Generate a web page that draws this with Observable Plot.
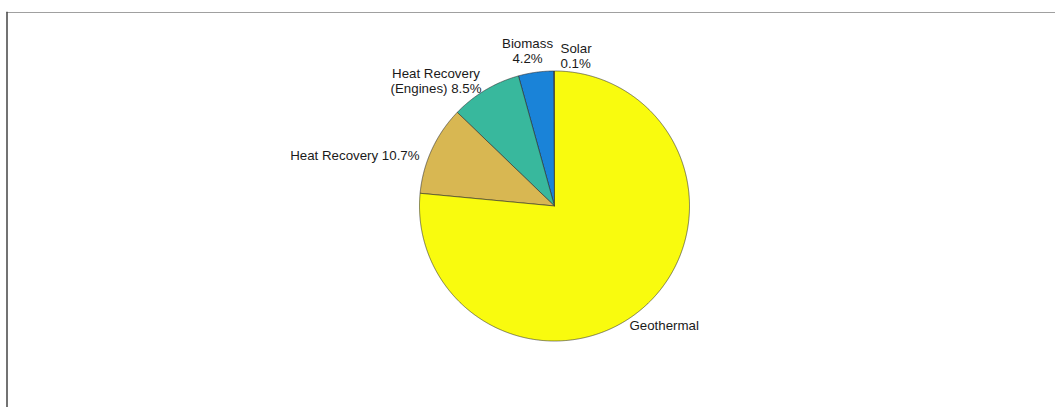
<!DOCTYPE html>
<html><head><meta charset="utf-8">
<script src="https://cdn.jsdelivr.net/npm/d3@7"></script>
<script src="https://cdn.jsdelivr.net/npm/@observablehq/plot@0.6"></script>
<style>body{margin:0;background:#fff;}</style>
</head><body><div id="chart"></div>
<script>
// Data
const categories = ["Solar", "Biomass", "Heat Recovery (Engines)", "Heat Recovery", "Geothermal"];
const shares = [0.1, 4.2, 8.5, 10.7, 76.5];
const labels = ["Solar\n0.1%", "Biomass\n4.2%", "Heat Recovery\n(Engines) 8.5%", "Heat Recovery 10.7%", "Geothermal"];

// Style
const colors = ["#3e26a8", "#1a83d8", "#38b89d", "#d8b752", "#f9fb0e"];
const labelLayout = [
  {anchor: "start", dx: 6.5, dy: 10.8},
  {anchor: "middle", dx: -6.5, dy: 4.4},
  {anchor: "middle", dx: -42.5, dy: 15},
  {anchor: "end", dx: 0, dy: 16},
  {anchor: "start", dx: -25, dy: 14.3}
];

const total = d3.sum(shares);
const slices = [];
let acc = 0;
categories.forEach((name, i) => {
  const a0 = acc / total * 2 * Math.PI;
  acc += shares[i];
  const a1 = acc / total * 2 * Math.PI;
  slices.push({name, a0, a1, mid: (a0 + a1) / 2, label: labels[i], i});
});

// polygon points (unit radius), angle measured from top, counter-clockwise
const pts = [];
for (const s of slices) {
  pts.push({name: s.name, x: 0, y: 0});
  const n = Math.max(2, Math.ceil((s.a1 - s.a0) / (Math.PI / 720)));
  for (let k = 0; k <= n; k++) {
    const a = s.a0 + (s.a1 - s.a0) * k / n;
    pts.push({name: s.name, x: -Math.sin(a), y: Math.cos(a)});
  }
  pts.push({name: s.name, x: 0, y: 0});
}

const textMarks = slices.map((s, i) => Plot.text([s], {
  x: d => -1.1 * Math.sin(d.mid),
  y: d => 1.1 * Math.cos(d.mid),
  text: "label",
  textAnchor: labelLayout[i].anchor,
  lineAnchor: "bottom",
  lineHeight: 1.18,
  dx: labelLayout[i].dx,
  dy: labelLayout[i].dy,
  fontSize: 13.3,
  fill: "#1a1a1a"
}));

const chart = Plot.plot({
  width: 1055, height: 407,
  marginTop: 12, marginLeft: 6.5, marginRight: 0, marginBottom: 0,
  x: {domain: [(6.5 - 554) / 135, (1055 - 554) / 135], axis: null},
  y: {domain: [(205.5 - 407) / 135, (205.5 - 12) / 135], axis: null},
  color: {domain: categories, range: colors},
  style: {fontFamily: "'Liberation Sans', Arial, Helvetica, sans-serif", background: "#fff"},
  marks: [
    Plot.line(pts, {x: "x", y: "y", z: "name", fill: "name", stroke: "#2a2a2a", strokeWidth: 0.6, curve: "linear"}),
    ...textMarks,
    Plot.frame({anchor: "top", stroke: "#a0a0a0"}),
    Plot.frame({anchor: "left", stroke: "#444", strokeWidth: 1.5})
  ]
});
document.getElementById("chart").append(chart);
</script>
</body></html>
